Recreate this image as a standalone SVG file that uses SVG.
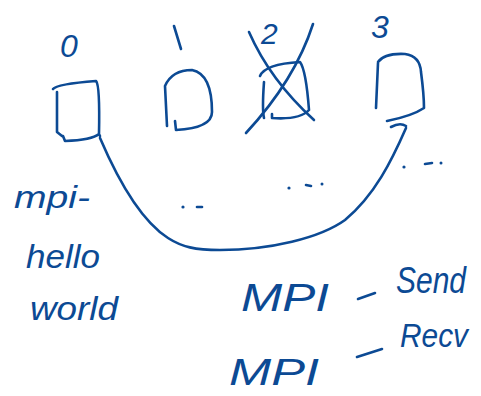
<svg xmlns="http://www.w3.org/2000/svg" width="481" height="396" viewBox="0 0 481 396">
<style>
.s{fill:none;stroke:#0c4a94;stroke-width:2.6;stroke-linecap:round;stroke-linejoin:round}
.t{fill:#0c4a94;font-family:"Liberation Sans",Arial,sans-serif;font-style:italic}
.d{fill:#0c4a94}
</style>
<rect width="481" height="396" fill="#fff"/>
<g id="node0">
<text class="t" x="60" y="57" font-size="32">0</text>
<path class="s" d="M57,92 L57,132 L62,136 M53,89 Q57,84 96,81 Q100,85 99,134 Q92,140 65,141 L63,136 M99,134 L100,136"/>
</g>
<g id="node1">
<path class="s" d="M174,26 L181,49"/>
<path class="s" d="M167,126 L165,86 Q172,70 192,70 Q212,74 212,112 Q212,128 176,130 L175,121"/>
</g>
<g id="node2">
<text class="t" x="261" y="44" font-size="30">2</text>
<path class="s" d="M264,82 Q262,110 264,118 M260,76 Q265,64 300,62 Q306,70 309,110 Q300,120 272,118 L272,114"/>
<path class="s" d="M249,32 Q270,80 314,120 M313,24 Q295,80 246,133"/>
</g>
<g id="node3">
<text class="t" x="371" y="38" font-size="32">3</text>
<path class="s" d="M378,63 L376,108 M378,62 Q384,53 405,54 Q420,56 421,72 Q424,95 424,108 Q412,116 387,121"/>
</g>
<g id="connectors">
<path class="s" d="M100,138 C118,180 140,220 168,238 C182,247 195,250 220,250 C270,250 320,238 345,220 C375,195 392,160 406,128"/>
<path class="s" d="M391,127 Q400,122 406,126"/>
</g>
<g id="dots">
<circle class="d" cx="183" cy="207" r="1.6"/><path class="s" d="M197,207 L202,207"/>
<circle class="d" cx="289" cy="188" r="1.6"/><path class="s" d="M306,185 L311,186"/><circle class="d" cx="322" cy="184" r="1.5"/>
<circle class="d" cx="404" cy="167" r="1.6"/><path class="s" d="M425,164 L432,163"/><circle class="d" cx="441" cy="163" r="1.5"/>
</g>
<g id="labels">
<text class="t" x="14" y="208" font-size="32" textLength="76" lengthAdjust="spacingAndGlyphs">mpi-</text>
<text class="t" x="26" y="268" font-size="34" textLength="74" lengthAdjust="spacingAndGlyphs">hello</text>
<text class="t" x="30" y="320" font-size="34" textLength="88" lengthAdjust="spacingAndGlyphs">world</text>
<text class="t" x="241" y="311" font-size="38" textLength="88" lengthAdjust="spacingAndGlyphs">MPI</text>
<path class="s" d="M358,299 L375,293"/>
<text class="t" x="396" y="293" font-size="36" textLength="70" lengthAdjust="spacingAndGlyphs">Send</text>
<text class="t" x="229" y="385" font-size="36" textLength="90" lengthAdjust="spacingAndGlyphs">MPI</text>
<path class="s" d="M357,357 L382,349"/>
<text class="t" x="400" y="347" font-size="34" textLength="68" lengthAdjust="spacingAndGlyphs">Recv</text>
</g>
</svg>
